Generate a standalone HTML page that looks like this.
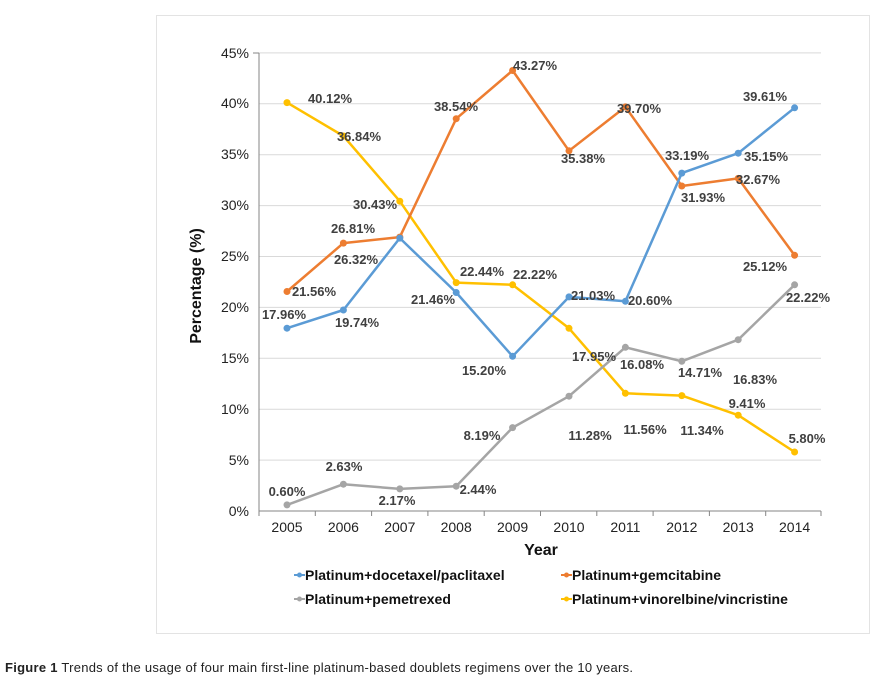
<!DOCTYPE html>
<html><head><meta charset="utf-8"><style>
body{margin:0;background:#fff;width:887px;height:691px;overflow:hidden}
svg{display:block}
.l{font:bold 13px "Liberation Sans",sans-serif;fill:#404040;text-anchor:middle}
.t{font:14px "Liberation Sans",sans-serif;fill:#222}
</style></head><body>
<svg width="887" height="691" viewBox="0 0 887 691">
<rect x="156.5" y="15.5" width="713" height="618" fill="#fff" stroke="#e3e3e3"/>
<g stroke="#d9d9d9" stroke-width="1">
<line x1="259" x2="821" y1="460.1" y2="460.1"/><line x1="259" x2="821" y1="409.2" y2="409.2"/>
<line x1="259" x2="821" y1="358.3" y2="358.3"/><line x1="259" x2="821" y1="307.4" y2="307.4"/>
<line x1="259" x2="821" y1="256.5" y2="256.5"/><line x1="259" x2="821" y1="205.6" y2="205.6"/>
<line x1="259" x2="821" y1="154.7" y2="154.7"/><line x1="259" x2="821" y1="103.8" y2="103.8"/>
<line x1="259" x2="821" y1="52.9" y2="52.9"/>
</g>
<g stroke="#868686" stroke-width="1">
<line x1="259" x2="259" y1="53" y2="511"/><line x1="259" x2="821" y1="511" y2="511"/>
<line x1="253" x2="259" y1="53" y2="53"/>
<path d="M259 511v5M315.3 511v5M371.6 511v5M427.9 511v5M484.2 511v5M540.5 511v5M596.8 511v5M653.1 511v5M709.4 511v5M765.7 511v5M821 511v5"/>
</g>
<g class="t" text-anchor="end">
<text x="249" y="516">0%</text><text x="249" y="465">5%</text><text x="249" y="414">10%</text>
<text x="249" y="363">15%</text><text x="249" y="312">20%</text><text x="249" y="261">25%</text>
<text x="249" y="210">30%</text><text x="249" y="159">35%</text><text x="249" y="108">40%</text>
<text x="249" y="58">45%</text>
</g>
<g class="t" text-anchor="middle">
<text x="287" y="532">2005</text><text x="343.4" y="532">2006</text><text x="399.8" y="532">2007</text>
<text x="456.2" y="532">2008</text><text x="512.6" y="532">2009</text><text x="569" y="532">2010</text>
<text x="625.4" y="532">2011</text><text x="681.8" y="532">2012</text><text x="738.2" y="532">2013</text>
<text x="794.6" y="532">2014</text>
</g>
<text x="541" y="555" text-anchor="middle" style="font:bold 16px 'Liberation Sans',sans-serif;fill:#111">Year</text>
<text transform="translate(201,286) rotate(-90)" text-anchor="middle" style="font:bold 16px 'Liberation Sans',sans-serif;fill:#111">Percentage (%)</text>
<g fill="none" stroke-width="2.5" stroke-linejoin="round">
<polyline stroke="#ffc000" points="287,102.6 343.4,136 399.8,201.2 456.2,282.6 512.6,284.8 569,328.3 625.4,393.3 681.8,395.6 738.2,415.2 794.6,452"/>
<polyline stroke="#ed7d31" points="287,291.5 343.4,243.1 399.8,237.1 456.2,118.7 512.6,70.5 569,150.8 625.4,106.9 681.8,186 738.2,178.4 794.6,255.3"/>
<polyline stroke="#5b9bd5" points="287,328.2 343.4,310 399.8,238.1 456.2,292.5 512.6,356.3 569,296.9 625.4,301.3 681.8,173.1 738.2,153.2 794.6,107.8"/>
<polyline stroke="#a5a5a5" points="287,504.9 343.4,484.2 399.8,488.9 456.2,486.2 512.6,427.6 569,396.2 625.4,347.3 681.8,361.3 738.2,339.7 794.6,284.8"/>
</g>
<g fill="#ffc000"><circle cx="287" cy="102.6" r="3.5"/><circle cx="343.4" cy="136" r="3.5"/><circle cx="399.8" cy="201.2" r="3.5"/><circle cx="456.2" cy="282.6" r="3.5"/><circle cx="512.6" cy="284.8" r="3.5"/><circle cx="569" cy="328.3" r="3.5"/><circle cx="625.4" cy="393.3" r="3.5"/><circle cx="681.8" cy="395.6" r="3.5"/><circle cx="738.2" cy="415.2" r="3.5"/><circle cx="794.6" cy="452" r="3.5"/></g>
<g fill="#ed7d31"><circle cx="287" cy="291.5" r="3.5"/><circle cx="343.4" cy="243.1" r="3.5"/><circle cx="399.8" cy="237.1" r="3.5"/><circle cx="456.2" cy="118.7" r="3.5"/><circle cx="512.6" cy="70.5" r="3.5"/><circle cx="569" cy="150.8" r="3.5"/><circle cx="625.4" cy="106.9" r="3.5"/><circle cx="681.8" cy="186" r="3.5"/><circle cx="738.2" cy="178.4" r="3.5"/><circle cx="794.6" cy="255.3" r="3.5"/></g>
<g fill="#5b9bd5"><circle cx="287" cy="328.2" r="3.5"/><circle cx="343.4" cy="310" r="3.5"/><circle cx="399.8" cy="238.1" r="3.5"/><circle cx="456.2" cy="292.5" r="3.5"/><circle cx="512.6" cy="356.3" r="3.5"/><circle cx="569" cy="296.9" r="3.5"/><circle cx="625.4" cy="301.3" r="3.5"/><circle cx="681.8" cy="173.1" r="3.5"/><circle cx="738.2" cy="153.2" r="3.5"/><circle cx="794.6" cy="107.8" r="3.5"/></g>
<g fill="#a5a5a5"><circle cx="287" cy="504.9" r="3.5"/><circle cx="343.4" cy="484.2" r="3.5"/><circle cx="399.8" cy="488.9" r="3.5"/><circle cx="456.2" cy="486.2" r="3.5"/><circle cx="512.6" cy="427.6" r="3.5"/><circle cx="569" cy="396.2" r="3.5"/><circle cx="625.4" cy="347.3" r="3.5"/><circle cx="681.8" cy="361.3" r="3.5"/><circle cx="738.2" cy="339.7" r="3.5"/><circle cx="794.6" cy="284.8" r="3.5"/></g>
<g class="l">
<text x="330" y="103">40.12%</text><text x="359" y="141">36.84%</text><text x="375" y="209">30.43%</text>
<text x="353" y="233">26.81%</text><text x="356" y="264">26.32%</text><text x="314" y="296">21.56%</text>
<text x="284" y="319">17.96%</text><text x="357" y="327">19.74%</text><text x="456" y="111">38.54%</text>
<text x="535" y="70">43.27%</text><text x="482" y="276">22.44%</text><text x="535" y="279">22.22%</text>
<text x="433" y="304">21.46%</text><text x="484" y="375">15.20%</text><text x="583" y="163">35.38%</text>
<text x="593" y="300">21.03%</text><text x="594" y="361">17.95%</text><text x="639" y="113">39.70%</text>
<text x="642" y="369">16.08%</text><text x="650" y="305">20.60%</text><text x="645" y="434">11.56%</text>
<text x="590" y="440">11.28%</text><text x="482" y="440">8.19%</text><text x="687" y="160">33.19%</text>
<text x="703" y="202">31.93%</text><text x="700" y="377">14.71%</text><text x="702" y="435">11.34%</text>
<text x="766" y="161">35.15%</text><text x="758" y="184">32.67%</text><text x="755" y="384">16.83%</text>
<text x="747" y="408">9.41%</text><text x="765" y="101">39.61%</text><text x="765" y="271">25.12%</text>
<text x="808" y="302">22.22%</text><text x="807" y="443">5.80%</text><text x="287" y="496">0.60%</text>
<text x="344" y="471">2.63%</text><text x="397" y="505">2.17%</text><text x="478" y="494">2.44%</text>
</g>
<g style="font:bold 14px 'Liberation Sans',sans-serif;fill:#111">
<line x1="294" x2="305" y1="575" y2="575" stroke="#5b9bd5" stroke-width="2"/><circle cx="299.5" cy="575" r="2.5" fill="#5b9bd5"/>
<text x="305" y="580">Platinum+docetaxel/paclitaxel</text>
<line x1="561" x2="572" y1="575" y2="575" stroke="#ed7d31" stroke-width="2"/><circle cx="566.5" cy="575" r="2.5" fill="#ed7d31"/>
<text x="572" y="580">Platinum+gemcitabine</text>
<line x1="294" x2="305" y1="599" y2="599" stroke="#a5a5a5" stroke-width="2"/><circle cx="299.5" cy="599" r="2.5" fill="#a5a5a5"/>
<text x="305" y="604">Platinum+pemetrexed</text>
<line x1="561" x2="572" y1="599" y2="599" stroke="#ffc000" stroke-width="2"/><circle cx="566.5" cy="599" r="2.5" fill="#ffc000"/>
<text x="572" y="604">Platinum+vinorelbine/vincristine</text>
</g>
<text x="5" y="672" textLength="628" lengthAdjust="spacing" style="font:13px 'Liberation Sans',sans-serif;fill:#222"><tspan font-weight="bold">Figure 1</tspan> Trends of the usage of four main first-line platinum-based doublets regimens over the 10 years.</text>
</svg>
</body></html>
